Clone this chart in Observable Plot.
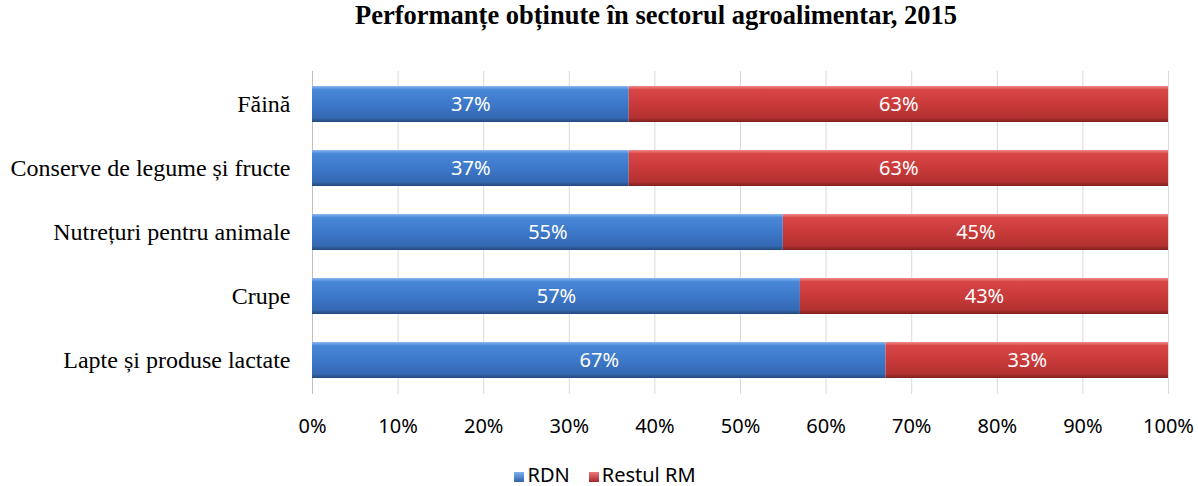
<!DOCTYPE html>
<html><head><meta charset="utf-8">
<script src="https://cdn.jsdelivr.net/npm/d3@7"></script>
<script src="https://cdn.jsdelivr.net/npm/@observablehq/plot@0.6"></script>
<style>
body{margin:0;background:#fff;width:1198px;height:486px;overflow:hidden;position:relative}
#title{height:45px;line-height:48px;font:bold 26.5px "Liberation Serif",serif;text-align:center;padding-left:114px;box-sizing:border-box;color:#000;white-space:nowrap}
#legend{position:absolute;left:0;top:463px;width:1198px;height:22px;line-height:22px;display:flex;justify-content:center;align-items:center;gap:19px;padding-left:12px;box-sizing:border-box;font:20px "Liberation Sans Narrow","Noto Sans",sans-serif;color:#000;overflow:visible}
.sw{display:inline-block;width:10px;height:10px;margin-right:3px;vertical-align:0px}
</style></head><body>
<div id="title">Performanțe obținute în sectorul agroalimentar, 2015</div>
<div id="chart"></div>
<div id="legend"><span><span class="sw" style="background:linear-gradient(#7fb0ee,#2f63a8)"></span>RDN</span><span><span class="sw" style="background:linear-gradient(#ec7b7b,#a52528)"></span>Restul RM</span></div>
<script>
const categories = ["Făină","Conserve de legume și fructe","Nutrețuri pentru animale","Crupe","Lapte și produse lactate"];
const series = ["RDN","Restul RM"];
const rdn = [37,37,55,57,67];
const restul = [63,63,45,43,33];
const xTicks = [0,10,20,30,40,50,60,70,80,90,100];

const data = [];
categories.forEach((c,i)=>{
  data.push({cat:c, series:series[0], value:rdn[i]});
  data.push({cat:c, series:series[1], value:restul[i]});
});

const chart = Plot.plot({
  width:1198, height:415,
  marginLeft:312, marginRight:30, marginTop:26, marginBottom:66,
  style:{fontFamily:"'Liberation Sans Narrow','Noto Sans',sans-serif", fontSize:"20px", color:"#000", background:"#fff"},
  x:{domain:[0,100], ticks:xTicks, tickFormat:d=>d+"%", tickSize:0, tickPadding:24, label:null},
  y:{domain:categories, label:null, tickSize:0, tickPadding:22, paddingInner:0.43, paddingOuter:0.215},
  color:{domain:series, range:["url(#gBlue)","url(#gRed)"]},
  marks:[
    Plot.gridX(xTicks, {stroke:"#d9d9d9", strokeOpacity:1}),
    Plot.ruleX([0], {stroke:"#bfbfbf"}),
    Plot.barX(data, Plot.stackX({x:"value", y:"cat", fill:"series", order:series, inset:0})),
    Plot.text(data, Plot.stackX({x:"value", y:"cat", z:"series", order:series, text:d=>d.value+"%", fill:"#fff", fontSize:20})),
  ]
});
const ns="http://www.w3.org/2000/svg";
const defs=document.createElementNS(ns,"defs");
defs.innerHTML=`
<linearGradient id="gBlue" x1="0" y1="0" x2="0" y2="1">
 <stop offset="0" stop-color="#8ab8f0"/><stop offset="0.1" stop-color="#4a88d8"/>
 <stop offset="0.5" stop-color="#3d78c9"/><stop offset="0.88" stop-color="#3569b3"/><stop offset="1" stop-color="#244a80"/>
</linearGradient>
<linearGradient id="gRed" x1="0" y1="0" x2="0" y2="1">
 <stop offset="0" stop-color="#ef8a8a"/><stop offset="0.1" stop-color="#d84646"/>
 <stop offset="0.5" stop-color="#c93a3a"/><stop offset="0.88" stop-color="#b53232"/><stop offset="1" stop-color="#7e2020"/>
</linearGradient>`;
chart.insertBefore(defs, chart.firstChild);
chart.querySelectorAll("g[aria-label='y-axis tick label'] text").forEach(t=>{t.style.fontFamily="'Liberation Serif',serif";t.style.fontSize="24px";});
document.getElementById("chart").appendChild(chart);
</script>
</body></html>
